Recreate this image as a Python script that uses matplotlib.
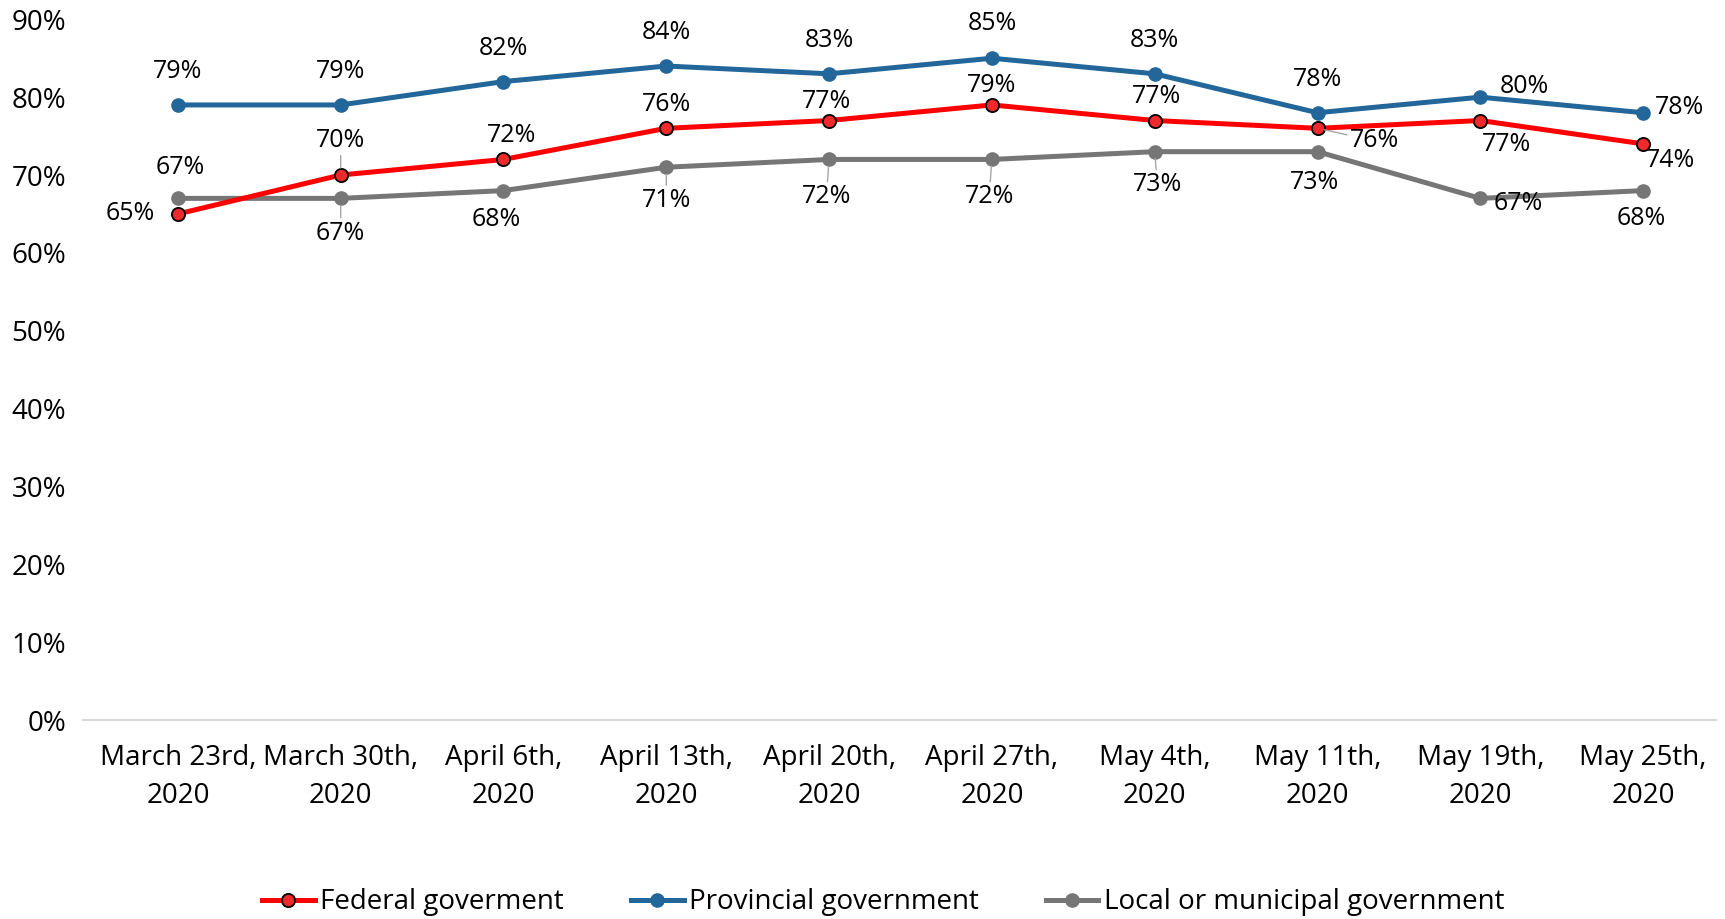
import matplotlib
matplotlib.use("Agg")
import matplotlib.pyplot as plt
from matplotlib.ticker import FuncFormatter

plt.rcParams["font.family"] = ["Open Sans", "DejaVu Sans"]

# ---- data -------------------------------------------------------------
dates = [
    "March 23rd,\n2020", "March 30th,\n2020", "April 6th,\n2020",
    "April 13th,\n2020", "April 20th,\n2020", "April 27th,\n2020",
    "May 4th,\n2020", "May 11th,\n2020", "May 19th,\n2020",
    "May 25th,\n2020",
]
federal = [65, 70, 72, 76, 77, 79, 77, 76, 77, 74]
provincial = [79, 79, 82, 84, 83, 85, 83, 78, 80, 78]
local = [67, 67, 68, 71, 72, 72, 73, 73, 67, 68]
series_names = ["Federal goverment", "Provincial government",
                "Local or municipal government"]

# label offsets (points) relative to each marker, plus whether a leader line shows
federal_offsets = [(-34, 0), (0, 25), (6, 17), (0, 17), (-2, 14), (0, 14),
                   (1, 17), (41, -9), (19, -17), (20, -12)]
federal_leaders = [False, True, False, False, False, False, False, True, False, False]
provincial_offsets = [(0, 24), (0, 24), (0, 24), (0, 24), (0, 24), (0, 25),
                      (0, 24), (0, 24), (32, 8), (26, 4)]
local_offsets = [(2, 22), (0, -25), (-5, -21), (0, -24), (-2, -27), (-2, -27),
                 (2, -24), (-2, -22), (27, -4), (-1, -20)]
local_leaders = [False, True, False, True, True, True, True, False, False, False]

RED = "#FF0000"
RED_FACE = "#EE2A2A"
BLUE = "#22669A"
GREY = "#767676"

fig = plt.figure(figsize=(17.25, 9.19), dpi=100)
ax = fig.add_axes([0.048, 0.2165, 0.947, 0.7625])

x = list(range(len(dates)))
ax.plot(x, [v / 100 for v in federal], color=RED, lw=3.6, marker="o",
        ms=9.5, mfc=RED_FACE, mec="black", mew=1.3, label=series_names[0], zorder=4)
ax.plot(x, [v / 100 for v in provincial], color=BLUE, lw=3.6, marker="o",
        ms=9.5, mfc=BLUE, mec=BLUE, label=series_names[1], zorder=3)
ax.plot(x, [v / 100 for v in local], color=GREY, lw=3.6, marker="o",
        ms=9.5, mfc=GREY, mec=GREY, label=series_names[2], zorder=2)


def add_labels(values, offsets, leaders=None):
    for i, (v, off) in enumerate(zip(values, offsets)):
        props = None
        if leaders is not None and leaders[i]:
            props = dict(arrowstyle="-", color="#A6A6A6", lw=1.0,
                         shrinkA=0, shrinkB=5)
        ax.annotate(f"{v}%", (i, v / 100), xytext=off, textcoords="offset points",
                    ha="center", va="center", fontsize=18, color="black",
                    arrowprops=props, zorder=6)


add_labels(federal, federal_offsets, federal_leaders)
add_labels(provincial, provincial_offsets)
add_labels(local, local_offsets, local_leaders)

ax.set_xlim(-0.584, 9.45)
ax.set_ylim(0, 0.9)
ax.set_yticks([i / 10 for i in range(10)])
ax.yaxis.set_major_formatter(FuncFormatter(lambda v, _: f"{v * 100:.0f}%"))
ax.set_xticks(x)
ax.set_xticklabels(dates, linespacing=1.5)
ax.tick_params(axis="y", length=0, pad=12, labelsize=20)
ax.tick_params(axis="x", length=0, pad=17, labelsize=20)

for side in ("top", "right", "left"):
    ax.spines[side].set_visible(False)
ax.spines["bottom"].set_color("#D9D9D9")
ax.spines["bottom"].set_linewidth(1.5)

ax.legend(loc="center", bbox_to_anchor=(0.49, -0.26), ncol=3, frameon=False,
          fontsize=20, handlelength=1.9, handletextpad=0.2, columnspacing=2.4)

fig.savefig("out.png", dpi=100)
